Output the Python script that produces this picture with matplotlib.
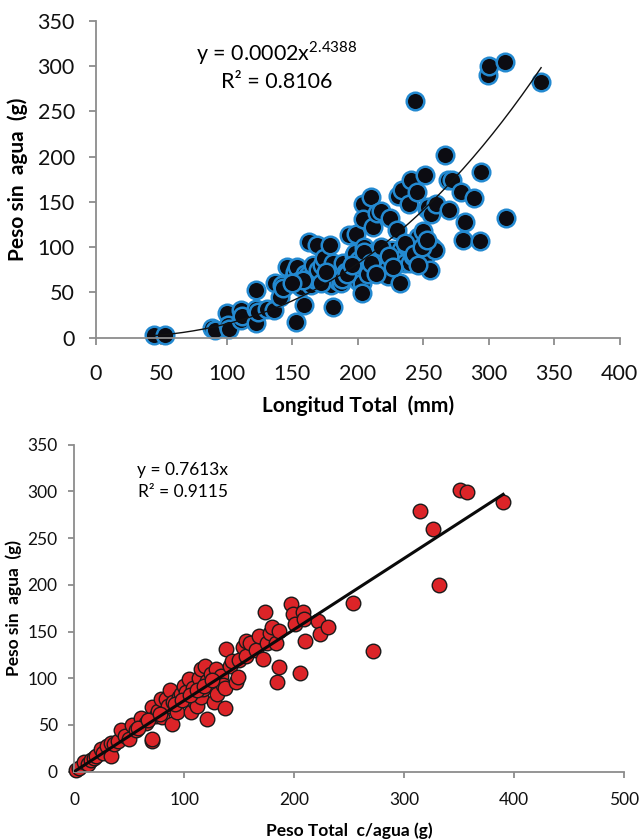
import numpy as np
import matplotlib.pyplot as plt

plt.rcParams['font.family'] = ['Lato', 'DejaVu Sans']
plt.rcParams['mathtext.fontset'] = 'custom'
plt.rcParams['mathtext.rm'] = 'Lato'

# Top chart: longitud total (mm) vs peso sin agua (g)
longitud = [44.5, 53, 89, 91, 100.5, 101, 102, 110.6, 111, 112, 122, 122, 122.7, 124, 131, 136,
            137, 142, 141, 143, 146, 151, 152, 154, 153, 155, 157, 159, 160, 162, 163, 164, 166,
            168, 169, 170, 173, 174, 177, 179, 180, 181, 181, 183, 185, 187, 189, 191, 193, 195,
            197, 198, 199, 200, 201, 203, 203, 204, 204, 205, 206, 208, 210, 211, 212, 213, 215,
            217, 218, 219, 220, 222, 223, 225, 226, 228, 230, 231, 232, 233, 234, 235, 236, 238,
            239, 240, 240, 241, 242, 244, 245, 246, 247, 248, 250, 251, 252, 253, 254, 255, 256,
            257, 259, 260, 267, 269, 270, 272, 279, 280, 282, 289, 293, 294, 299.5, 300, 312.5,
            313.5, 340, 205, 210, 214, 218, 224, 227, 236, 243, 249, 253, 246, 188, 192, 196,
            172, 176, 158, 150]
peso_lt = [3, 3, 10, 8, 27, 14, 9, 30, 19, 24, 53, 32, 16, 28, 32, 30,
           60, 58, 45, 55, 78, 67, 72, 78, 17, 62, 56, 36, 70, 69, 106, 58, 80,
           64, 102, 75, 80, 88, 63, 102, 58, 34, 82, 67, 62, 60, 82, 72, 113, 76,
           91, 93, 115, 62, 86, 60, 49, 148, 131, 100, 78, 70, 155, 92, 122, 95, 138,
           95, 140, 80, 88, 76, 68, 132, 97, 85, 119, 156, 60, 97, 163, 88, 82, 100,
           148, 98, 82, 174, 90, 261, 161, 111, 95, 85, 118, 180, 91, 142, 144, 75, 137,
           100, 97, 148, 202, 174, 141, 174, 161, 108, 128, 154, 107, 183, 290, 300, 305,
           132, 282, 95, 82, 70, 100, 90, 78, 105, 92, 100, 108, 80, 65, 70, 80,
           60, 72, 64, 60]
pow_a, pow_b = 0.0002, 2.4388

# Bottom chart: peso total c/agua (g) vs peso sin agua (g)
peso_total = [1.5, 4, 9, 12, 15, 18, 20, 24, 26, 30, 33, 33, 36, 40, 42.5, 46, 50, 52.6, 56, 61,
              65, 70.5, 71, 71, 74, 76, 79, 80, 83.6, 85, 87, 88.5, 90, 93, 95, 96.7, 100, 102,
              104, 106, 108, 110, 111.6, 113, 115, 115, 117, 119, 121, 121, 124, 126.6, 126.6,
              128.5, 130, 133, 135, 137, 137, 138, 141.5, 143, 147, 149, 150, 153, 155.7, 156.5,
              160, 165, 168, 171.5, 173, 175, 178, 180, 183, 184.5, 186, 186, 197, 199, 200.5,
              205, 208, 208.7, 209.5, 222, 223, 231, 253.5, 271.5, 314, 326, 332, 350.6, 357, 390,
              58, 67, 78, 92, 98, 105, 112, 118, 125]
peso_sa = [2, 4, 10, 8, 12, 14, 17, 24, 20, 27, 31, 17, 29, 33, 44, 38, 35, 50, 45, 57,
           52, 69, 33, 35, 60, 65, 78, 58, 78, 70, 87, 51, 75, 63.5, 80, 83, 92, 85,
           99, 63.5, 90, 75, 70.6, 100, 110, 79.6, 88, 113.5, 56, 97, 105, 94, 74,
           110, 83, 102, 93, 68, 90, 131, 113.5, 118, 95.6, 101, 120, 133, 124, 140,
           138, 130, 145.6, 120.6, 170.5, 138, 148, 154.5, 138, 95.6, 151, 112, 179.5, 169, 158,
           106, 170.5, 163, 140, 161.6, 147.5, 154.5, 181, 129.5, 279, 260, 200, 302, 299, 289,
           47, 55, 62, 72, 77, 82, 87, 92, 98]
lin_m = 0.7613

fig = plt.figure(figsize=(6.43, 8.40), dpi=100)
ax1 = fig.add_axes([0.1488, 0.5982, 0.815, 0.3768])
ax2 = fig.add_axes([0.1156, 0.0815, 0.855, 0.389])

spine_col = '#8c8c8c'
for ax in (ax1, ax2):
    for s in ('top', 'right'):
        ax.spines[s].set_visible(False)
    for s in ('left', 'bottom'):
        ax.spines[s].set_color(spine_col)
        ax.spines[s].set_linewidth(1.3)

# top scatter + power trendline
ax1.scatter(longitud, peso_lt, s=160, facecolor='#0c0c12', edgecolor='#2389d0',
            linewidth=1.8, zorder=2, clip_on=False)
xs = np.linspace(min(longitud), max(longitud), 200)
ax1.plot(xs, pow_a * xs ** pow_b, color='#111111', lw=1.0, zorder=3)
ax1.set_xlim(0, 400)
ax1.set_ylim(0, 350)
ax1.set_xticks(np.arange(0, 401, 50))
ax1.set_yticks(np.arange(0, 351, 50))
ax1.tick_params(direction='out', length=5, width=1.3, color=spine_col,
                labelsize=15.5, colors='#111111')
ax1.tick_params(axis='x', pad=14)
ax1.tick_params(axis='y', pad=10)
ax1.set_xlabel('Longitud Total  (mm)', fontsize=15, fontweight='bold')
ax1.xaxis.set_label_coords(0.5, -0.216)
ax1.xaxis.label.set_va('center')
ax1.set_ylabel('Peso sin  agua  (g)', fontsize=15, fontweight='bold')
ax1.yaxis.set_label_coords(-0.148, 0.5)
ax1.yaxis.label.set_va('center')
ax1.text(0.346, 0.899, r'y = 0.0002x$^{\mathregular{2.4388}}$', transform=ax1.transAxes,
         ha='center', va='center', fontsize=15.5)
ax1.text(0.346, 0.807, 'R² = 0.8106', transform=ax1.transAxes,
         ha='center', va='center', fontsize=15.5)

# bottom scatter + linear trendline through origin
ax2.scatter(peso_total, peso_sa, s=110, facecolor='#dc2428', edgecolor='#1a1a1a',
            linewidth=1.0, zorder=2, clip_on=False)
xl = np.array([0, max(peso_total)])
ax2.plot(xl, lin_m * xl, color='#0a0a0a', lw=2.2, zorder=3)
ax2.set_xlim(0, 500)
ax2.set_ylim(0, 350)
ax2.set_xticks(np.arange(0, 501, 100))
ax2.set_yticks(np.arange(0, 351, 50))
ax2.tick_params(direction='out', length=4, width=1.3, color=spine_col,
                labelsize=12.5, colors='#111111')
ax2.tick_params(axis='x', pad=11)
ax2.tick_params(axis='y', pad=8)
ax2.set_xlabel('Peso Total  c/agua (g)', fontsize=12.5, fontweight='bold')
ax2.xaxis.set_label_coords(0.5, -0.18)
ax2.xaxis.label.set_va('center')
ax2.set_ylabel('Peso sin  agua  (g)', fontsize=12.5, fontweight='bold')
ax2.yaxis.set_label_coords(-0.110, 0.5)
ax2.yaxis.label.set_va('center')
ax2.text(0.197, 0.922, 'y = 0.7613x', transform=ax2.transAxes,
         ha='center', va='center', fontsize=12.5)
ax2.text(0.197, 0.855, 'R² = 0.9115', transform=ax2.transAxes,
         ha='center', va='center', fontsize=12.5)

fig.savefig('out.png', dpi=100)
